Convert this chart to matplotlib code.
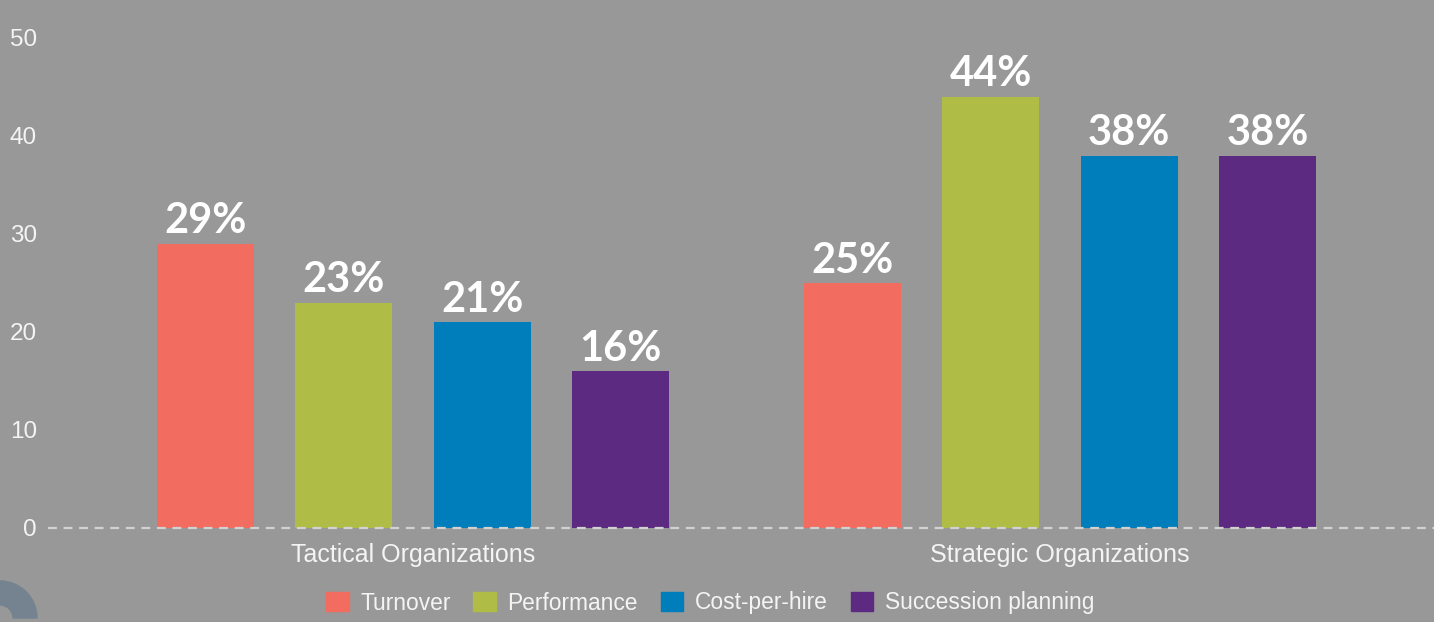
import numpy as np
import matplotlib
matplotlib.use("Agg")
import matplotlib.pyplot as plt
from matplotlib.patches import Wedge, Patch

plt.rcParams["font.family"] = ["Liberation Sans", "DejaVu Sans"]

# data
groups = ["Tactical Organizations", "Strategic Organizations"]
series = ["Turnover", "Performance", "Cost-per-hire", "Succession planning"]
turnover = [29, 25]
performance = [23, 44]
cost_per_hire = [21, 38]
succession = [16, 38]
values = [turnover, performance, cost_per_hire, succession]
colors = ["#F26C5F", "#AFBD47", "#007DBB", "#5C2A80"]

bg = "#989898"
txt = "#f4f4f4"

W, H = 1434, 622
fig = plt.figure(figsize=(W / 100, H / 100), dpi=100, facecolor=bg)
ax = fig.add_axes([48 / W, 94 / H, 1 - 48 / W, 490 / H])
ax.set_facecolor(bg)

x = np.arange(len(groups))
step, width = 0.214, 0.15
for i, (name, vals, c) in enumerate(zip(series, values, colors)):
    pos = x + (i - 1.5) * step
    bars = ax.bar(pos, vals, width, color=c, label=name, zorder=2)
    for b, v in zip(bars, vals):
        ax.annotate(f"{v}%", (b.get_x() + b.get_width() / 2, v),
                    xytext=(0, 7.5), textcoords="offset points",
                    ha="center", va="baseline", color="white",
                    fontsize=30, fontweight="bold", family="Lato")

ax.set_xlim(-0.564, 1.578)
ax.set_ylim(0, 50)
ax.axhline(0, color="#d2d2d2", lw=1.6, ls=(0, (4, 3)), zorder=3, clip_on=False)

ax.set_yticks(range(0, 51, 10))
ax.set_xticks(x, groups)
ax.tick_params(axis="y", length=0, pad=8, labelsize=17.5, labelcolor=txt)
ax.tick_params(axis="x", length=0, pad=11, labelsize=18, labelcolor=txt)
for s in ax.spines.values():
    s.set_visible(False)

handles = [Patch(color=c, label=n) for n, c in zip(series, colors)]
leg = fig.legend(handles=handles, loc="center", bbox_to_anchor=(710 / W, 1 - 603 / H),
                 ncol=4, frameon=False, handlelength=1.0, handleheight=0.9,
                 handletextpad=0.5, columnspacing=1.0,
                 prop={"size": 16.4})
for t in leg.get_texts():
    t.set_color(txt)

# logo fragment in the corner
fig.patches.append(Wedge((0, 4), 37, 0, 90, width=24, color="#74838F",
                         transform=None, figure=fig))

fig.savefig("out.png", dpi=100, facecolor=bg)
